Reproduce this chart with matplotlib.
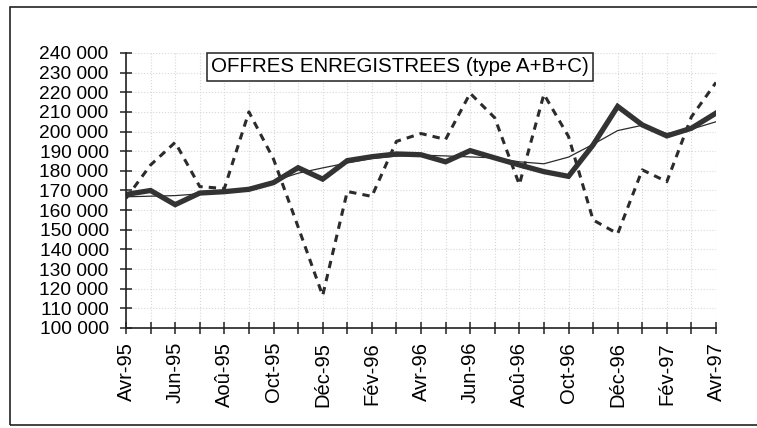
import numpy as np
import matplotlib.pyplot as plt
from matplotlib.patches import Rectangle
from matplotlib.ticker import FuncFormatter, MultipleLocator

plt.rcParams['font.family'] = ['Liberation Sans', 'DejaVu Sans']

months = ['Avr-95', 'Mai-95', 'Jun-95', 'Jul-95', 'Aoû-95', 'Sep-95', 'Oct-95', 'Nov-95',
          'Déc-95', 'Jan-96', 'Fév-96', 'Mar-96', 'Avr-96', 'Mai-96', 'Jun-96', 'Jul-96',
          'Aoû-96', 'Sep-96', 'Oct-96', 'Nov-96', 'Déc-96', 'Jan-97', 'Fév-97', 'Mar-97',
          'Avr-97']

# brut (pointillés)
brut = [166000, 183000, 194500, 172000, 171000, 210000, 186000, 151500,
        116500, 169500, 167000, 195000, 199000, 196000, 219500, 207000,
        173000, 219000, 197500, 155000, 148000, 180500, 174500, 207500,
        225000]
# cvs (trait épais)
cvs = [168000, 170000, 162800, 168700, 169400, 170600, 174000, 181600,
       175800, 185200, 187200, 188600, 188200, 184600, 190300, 186600,
       183000, 179600, 177200, 193200, 212800, 203400, 197800, 201700,
       209400]
# tendance (trait fin)
tend = [166800, 167100, 167400, 168300, 169500, 171200, 174800, 178800,
        181500, 184000, 186300, 187500, 188000, 187600, 187100, 186600,
        184600, 183600, 187000, 193500, 200500, 203200, 199000, 201200,
        205000]

x = np.arange(len(months))

fig = plt.figure(figsize=(7.57, 4.28), dpi=100)
ax = fig.add_axes([126/757, 1-328/428, (716-126)/757, (328-53)/428])

ax.grid(True, color='#d8d8d8', linestyle=':', linewidth=0.8)
ax.set_axisbelow(True)

ax.plot(x, brut, color='#2b2b2b', lw=2.2, dashes=(2.4, 2.0))
ax.plot(x, tend, color='#2b2b2b', lw=0.9)
ax.plot(x, cvs, color='#333333', lw=3.8, solid_joinstyle='miter')

ax.set_xlim(0, 24)
ax.set_ylim(100000, 240000)
ax.yaxis.set_major_locator(MultipleLocator(10000))
ax.yaxis.set_major_formatter(FuncFormatter(lambda v, p: f'{int(v):,}'.replace(',', ' ')))
ax.set_xticks(x)
ax.set_xticklabels([m if i % 2 == 0 else '' for i, m in enumerate(months)], rotation=90)

for s in ['top', 'right']:
    ax.spines[s].set_visible(False)
for s in ['left', 'bottom']:
    ax.spines[s].set_linewidth(1.2)
    ax.spines[s].set_color('#222222')
ax.tick_params(axis='both', direction='inout', length=8, width=1.1, color='#222222')
ax.tick_params(axis='y', labelsize=13.8, pad=8.5)
ax.tick_params(axis='x', labelsize=14.5, pad=6)

fig.text(400/757, 1-67/428, 'OFFRES ENREGISTREES (type A+B+C)', fontsize=14.8,
         ha='center', va='center',
         bbox=dict(boxstyle='square,pad=0.2', fc='white', ec='#222222', lw=1.1))

fig.patches.append(Rectangle((10/757, 3/428), 1.0, 1-10/428, transform=fig.transFigure,
                             fill=False, ec='#222222', lw=1.2))

fig.savefig('out.png', dpi=100)
